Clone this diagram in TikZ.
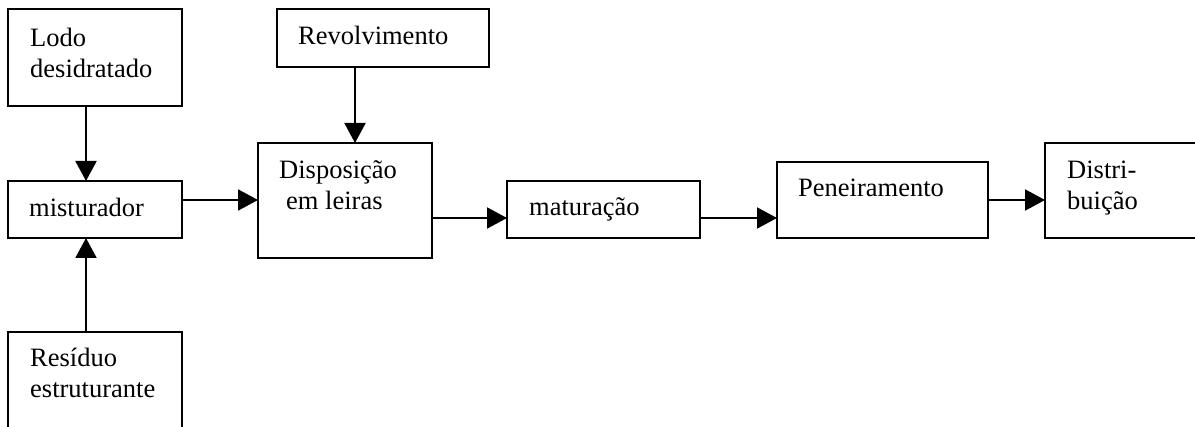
\documentclass[tikz,border=0pt]{standalone}
\usepackage{fontspec}
\setmainfont{Liberation Serif}
\usetikzlibrary{arrows.meta,calc}
\newcommand\twolines[2]{\vtop{\hbox{#1}\hbox{#2}}}
\begin{document}
\begin{tikzpicture}[x=1pt,y=-1pt,
  box/.style={draw,line width=2pt,inner sep=0pt,outer sep=0pt,anchor=north west},
  lbl/.style={inner sep=0pt,anchor=base west,font=\fontsize{26.5}{30.5}\selectfont},
  arr/.style={line width=2pt,-{Triangle[length=20pt,width=21pt]}},
  plain/.style={line width=2pt}]
\useasboundingbox (0,0) rectangle (1195,427);
\clip (0,0) rectangle (1195,427);
% boxes
\node[box,minimum width=174pt,minimum height=97pt] (lodo) at (8,9) {};
\node[box,minimum width=174pt,minimum height=57pt] (mist) at (8,181) {};
\node[box,minimum width=174pt,minimum height=130pt] (resid) at (8,332) {};
\node[box,minimum width=212pt,minimum height=58pt] (revol) at (277,9) {};
\node[box,minimum width=174pt,minimum height=115pt] (disp) at (258,143) {};
\node[box,minimum width=193pt,minimum height=57pt] (mat) at (507,181) {};
\node[box,minimum width=211pt,minimum height=76pt] (pen) at (777,162) {};
\node[box,minimum width=175pt,minimum height=95pt] (dist) at (1045,143) {};
% texts
\node[lbl] (tlodo) at (30,47) {\twolines{Lodo}{desidratado}};
\node[lbl] (tmist) at (29,217) {misturador};
\node[lbl] (tresid) at (30,367) {\twolines{Resíduo}{estruturante}};
\node[lbl] (trevol) at (298,45) {Revolvimento};
\node[lbl] (tdisp) at (279,179) {\twolines{Disposição}{\hspace*{7pt}em leiras}};
\node[lbl] (tmat) at (529,216) {maturação};
\node[lbl] (tpen) at (798,197) {Peneiramento};
\node[lbl] (tdist) at (1067,179) {\twolines{Distri-}{buição}};
% connectors
\draw[arr] ([xshift=-9pt]lodo.south) -- ([xshift=-9pt]mist.north);
\draw[arr] ([xshift=-9pt]resid.north) -- ([xshift=-9pt]mist.south);
\coordinate (m1) at ([yshift=9.5pt]mist.east);
\draw[arr] (m1) -- (m1 -| disp.west);
\coordinate (r1) at ([xshift=-28pt]revol.south);
\draw[arr] (r1) -- (r1 |- disp.north);
\coordinate (a1) at ([yshift=-8.5pt]mat.west);
\draw[arr] (disp.east |- a1) -- (a1);
\coordinate (a2) at ([yshift=-8.5pt]mat.east);
\draw[arr] (a2) -- (a2 -| pen.west);
\draw[arr] (pen.east) -- (pen.east -| dist.west);
\end{tikzpicture}
\end{document}
